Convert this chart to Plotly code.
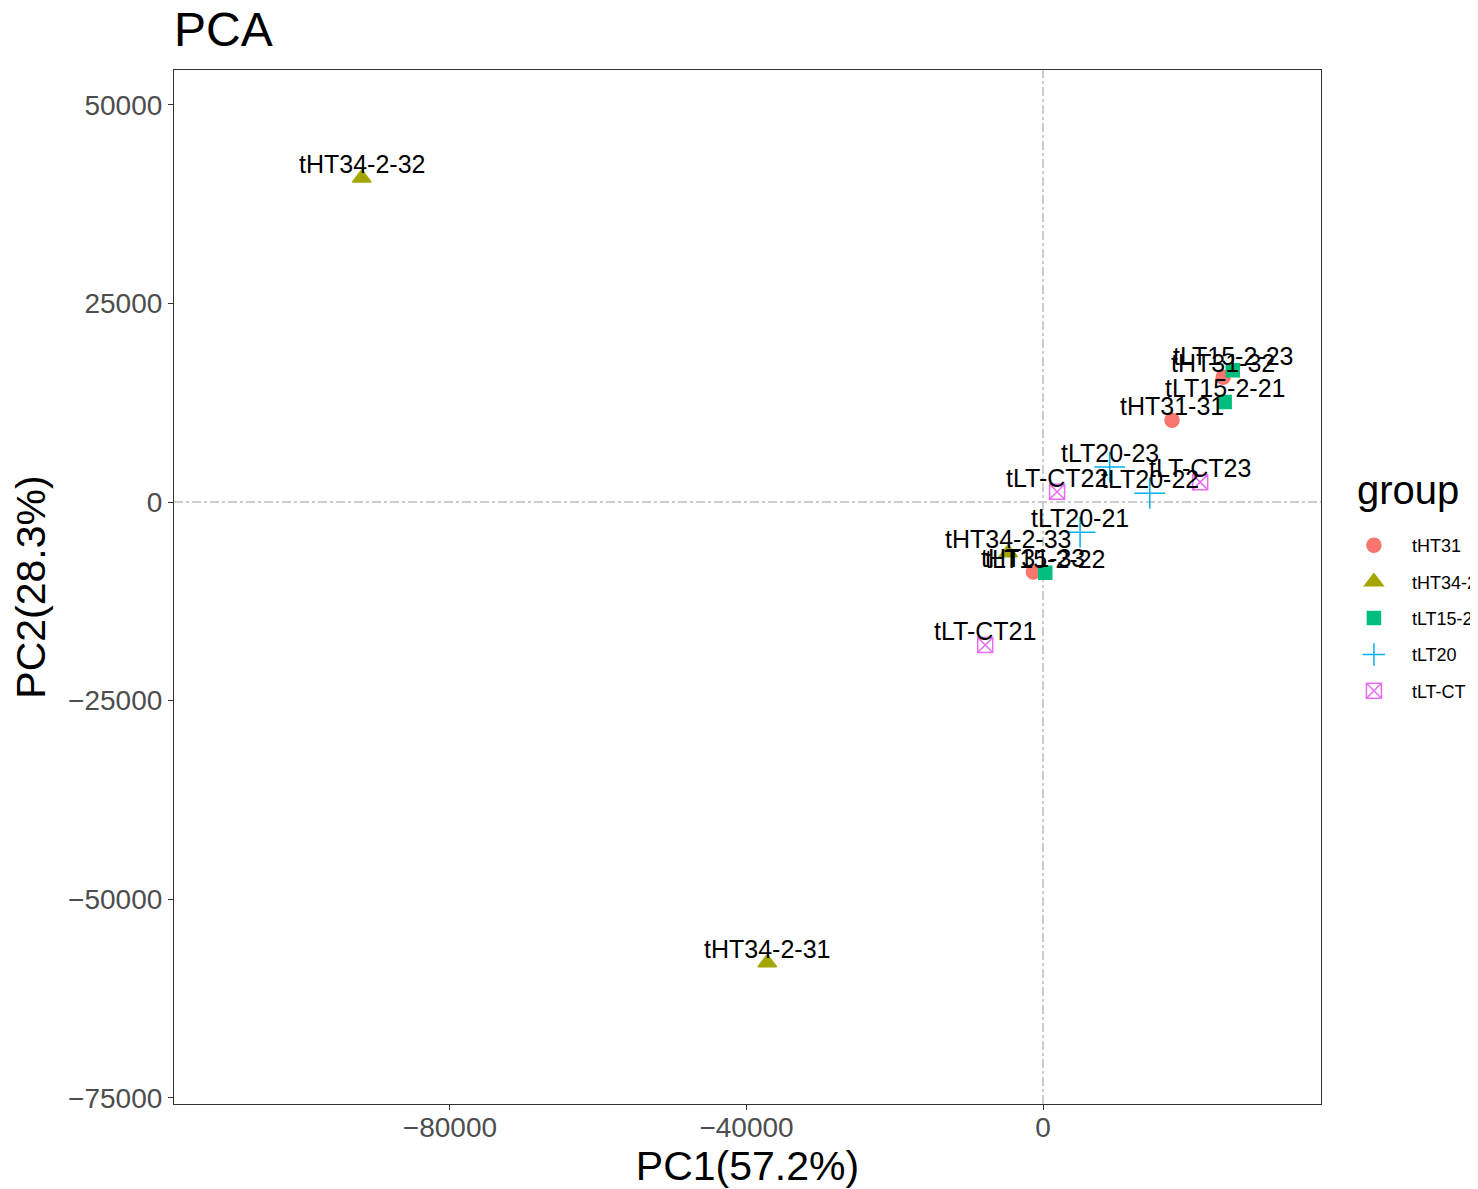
import plotly.graph_objects as go

# ---- data ----
sample_names = ["tHT31-31", "tHT31-32", "tHT31-33",
                "tHT34-2-31", "tHT34-2-32", "tHT34-2-33",
                "tLT15-2-21", "tLT15-2-22", "tLT15-2-23",
                "tLT20-21", "tLT20-22", "tLT20-23",
                "tLT-CT21", "tLT-CT22", "tLT-CT23"]
sample_group = ["tHT31", "tHT31", "tHT31",
                "tHT34-2", "tHT34-2", "tHT34-2",
                "tLT15-2", "tLT15-2", "tLT15-2",
                "tLT20", "tLT20", "tLT20",
                "tLT-CT", "tLT-CT", "tLT-CT"]
pc1 = [17400, 24300, -1300,
       -37200, -91900, -4700,
       24500, 300, 25600,
       5000, 14400, 9000,
       -7800, 1900, 21200]
pc2 = [10300, 15700, -8800,
       -58000, 40800, -6400,
       12600, -8900, 16600,
       -3800, 1100, 4400,
       -18000, 1300, 2500]

groups = ["tHT31", "tHT34-2", "tLT15-2", "tLT20", "tLT-CT"]
group_colors = ["#F8766D", "#A3A500", "#00BF7D", "#00B0F6", "#E76BF3"]
group_symbols = ["circle", "triangle-up", "square", "cross-thin", "square-x-open"]
group_sizes = [14, 16, 13, 22, 15]

x_ticks = [-80000, -40000, 0]
y_ticks = [-75000, -50000, -25000, 0, 25000, 50000]


def fmt(v):
    return ("\u2212" + str(abs(v))) if v < 0 else str(v)


FONT = "Liberation Sans, Arial, sans-serif"

# page body adds an 8px offset; figure sized so the whole chart fits the window
W, H = 1470, 1181

fig = go.Figure()
for g, col, sym, sz in zip(groups, group_colors, group_symbols, group_sizes):
    idx = [i for i, s in enumerate(sample_group) if s == g]
    fig.add_trace(go.Scatter(
        x=[pc1[i] for i in idx],
        y=[pc2[i] for i in idx],
        mode="markers",
        name=g,
        legendgroup=g,
        marker=dict(color=col, symbol=sym, size=sz,
                    line=dict(color=col, width=1.5)),
        cliponaxis=False,
    ))

# sample labels just above each point
for name, xv, yv in zip(sample_names, pc1, pc2):
    fig.add_annotation(x=xv, y=yv, xref="x", yref="y", text=name,
                       showarrow=False, yshift=14, yanchor="middle",
                       xanchor="center",
                       font=dict(family=FONT, size=25, color="black"))

fig.add_hline(y=0, line=dict(color="#bdbdbd", width=1.5, dash="dashdot"), layer="below")
fig.add_vline(x=0, line=dict(color="#bdbdbd", width=1.5, dash="dashdot"), layer="below")

# legend title
fig.add_annotation(text="group", xref="paper", yref="paper",
                   x=(1355 - 174) / 1147, y=(1104 - 490) / 1034,
                   xanchor="left", yanchor="middle", showarrow=False,
                   font=dict(size=40, family=FONT, color="black"))

fig.update_layout(
    width=W, height=H,
    margin=dict(l=166, r=157, t=62, b=85, autoexpand=False),
    paper_bgcolor="white", plot_bgcolor="white",
    font=dict(family=FONT, color="black"),
    title=dict(text="PCA", x=166 / W, xref="container", xanchor="left",
               y=1 - 21 / H, yref="container", yanchor="middle",
               font=dict(size=48, family=FONT, color="black")),
    legend=dict(
        font=dict(size=18, family=FONT, color="black"),
        x=1.013, xanchor="left", y=0.558, yanchor="top",
        itemwidth=66,
        tracegroupgap=10, traceorder="grouped",
        bgcolor="rgba(0,0,0,0)",
    ),
    showlegend=True,
)

fig.update_xaxes(
    range=[-117230, 37500], automargin=False,
    tickvals=x_ticks, ticktext=[fmt(v) for v in x_ticks],
    showgrid=False, zeroline=False,
    showline=True, mirror=True, linecolor="#333333", linewidth=1.2,
    ticks="outside", ticklen=5, tickcolor="#333333",
    ticklabelstandoff=-7,
    tickfont=dict(size=28, color="#4d4d4d", family=FONT),
    title=dict(text="PC1(57.2%)", font=dict(size=41, family=FONT, color="black"), standoff=6),
)
fig.update_yaxes(
    range=[-75780, 54380], automargin=False,
    tickvals=y_ticks, ticktext=[fmt(v) for v in y_ticks],
    showgrid=False, zeroline=False,
    showline=True, mirror=True, linecolor="#333333", linewidth=1.2,
    ticks="outside", ticklen=5, tickcolor="#333333",
    tickfont=dict(size=28, color="#4d4d4d", family=FONT),
    title=dict(text="PC2(28.3%)", font=dict(size=41, family=FONT, color="black"), standoff=12),
)

fig.write_html("out.html")
